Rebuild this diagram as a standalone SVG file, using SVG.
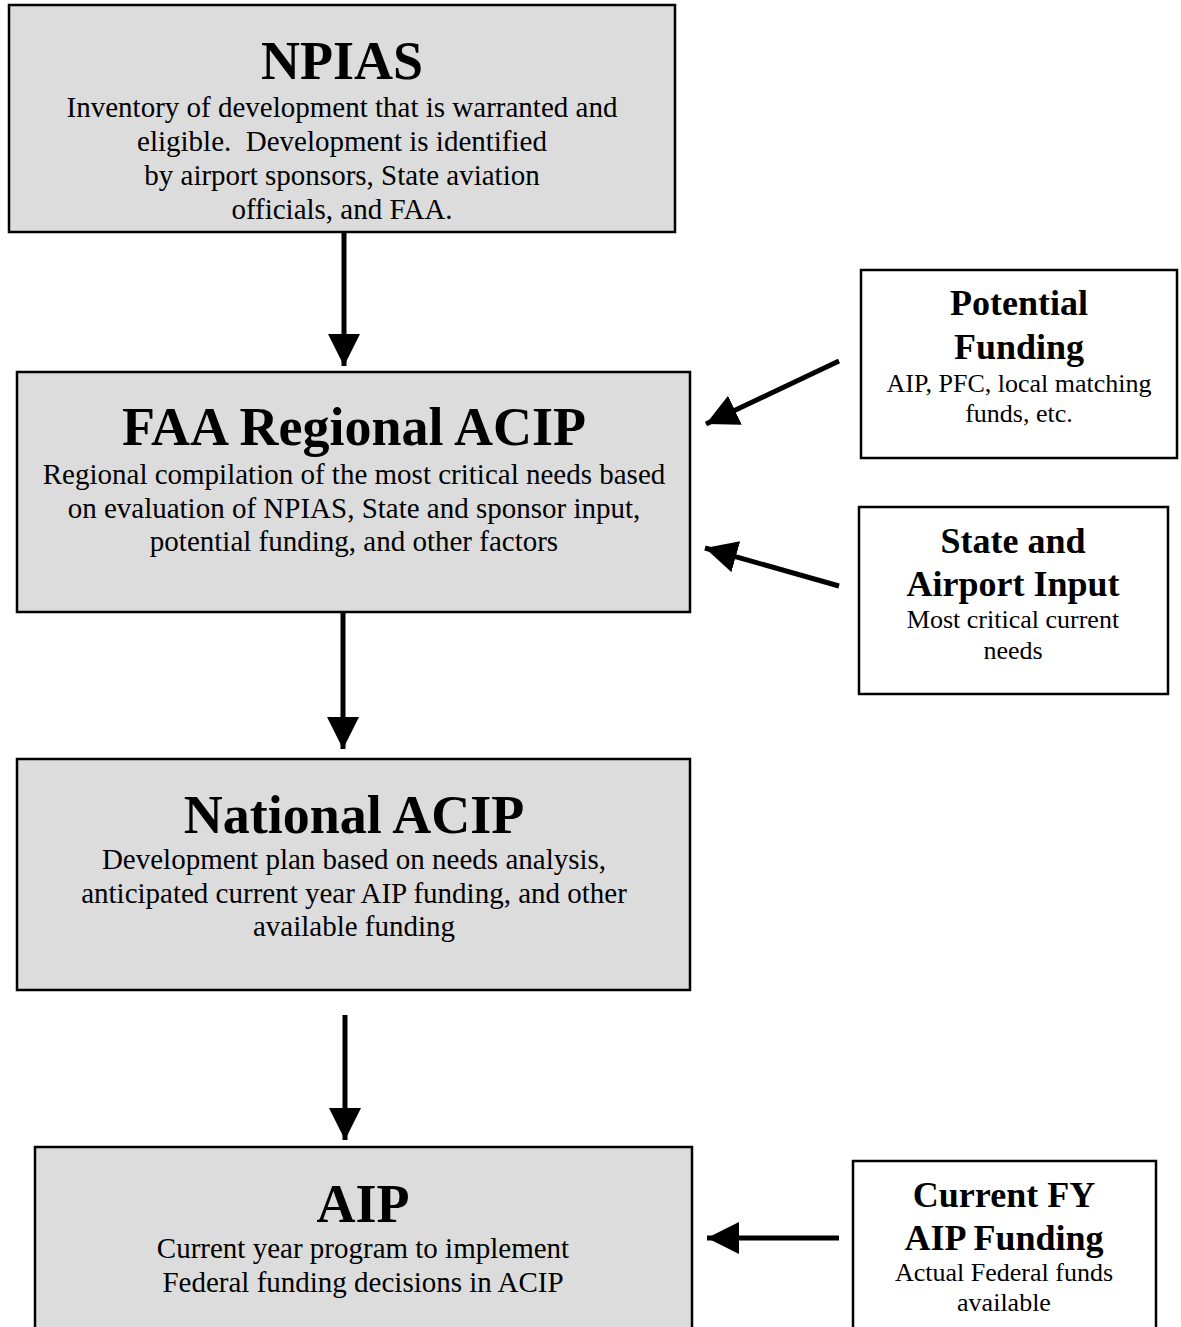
<svg xmlns="http://www.w3.org/2000/svg" width="1181" height="1327" viewBox="0 0 1181 1327">
<style>
.main{fill:#dcdcdc;stroke:#000;stroke-width:2.5}
.side{fill:#fff;stroke:#000;stroke-width:2.5}
text{font-family:"Liberation Serif","Times New Roman",serif;fill:#000;text-anchor:middle}
.t1{font-size:54px;font-weight:bold}
.b1{font-size:29px}
.t2{font-size:36px;font-weight:bold}
.b2{font-size:26px}
.pre{white-space:pre}
.conn line{stroke:#000;stroke-width:5}
</style>
<defs>
<marker id="ah" markerUnits="userSpaceOnUse" markerWidth="34" markerHeight="34" refX="32" refY="16" orient="auto">
<path d="M0,0 L32,16 L0,32 Z" fill="#000"/>
</marker>
</defs>
<rect width="1181" height="1327" fill="#fff"/>
<g id="npias">
<rect class="main" x="9" y="5" width="666" height="227"/>
<text class="t1" x="342" y="79">NPIAS</text>
<text class="b1" x="342" y="117">Inventory of development that is warranted and</text>
<text class="b1 pre" x="342" y="151" xml:space="preserve">eligible.  Development is identified</text>
<text class="b1" x="342" y="185">by airport sponsors, State aviation</text>
<text class="b1" x="342" y="219">officials, and FAA.</text>
</g>
<g id="regional">
<rect class="main" x="17" y="372" width="673" height="240"/>
<text class="t1" x="354" y="445">FAA Regional ACIP</text>
<text class="b1" x="354" y="484">Regional compilation of the most critical needs based</text>
<text class="b1" x="354" y="518">on evaluation of NPIAS, State and sponsor input,</text>
<text class="b1" x="354" y="551">potential funding, and other factors</text>
</g>
<g id="national">
<rect class="main" x="17" y="759" width="673" height="231"/>
<text class="t1" x="354" y="833">National ACIP</text>
<text class="b1" x="354" y="869">Development plan based on needs analysis,</text>
<text class="b1" x="354" y="903">anticipated current year AIP funding, and other</text>
<text class="b1" x="354" y="936">available funding</text>
</g>
<g id="aip">
<rect class="main" x="35" y="1147" width="657" height="190"/>
<text class="t1" x="363" y="1222">AIP</text>
<text class="b1" x="363" y="1258">Current year program to implement</text>
<text class="b1" x="363" y="1292">Federal funding decisions in ACIP</text>
</g>
<g id="potential">
<rect class="side" x="861" y="270" width="316" height="188"/>
<text class="t2" x="1019" y="315">Potential</text>
<text class="t2" x="1019" y="359">Funding</text>
<text class="b2" x="1019" y="392">AIP, PFC, local matching</text>
<text class="b2" x="1019" y="422">funds, etc.</text>
</g>
<g id="stateinput">
<rect class="side" x="859" y="507" width="309" height="187"/>
<text class="t2" x="1013" y="553">State and</text>
<text class="t2" x="1013" y="596">Airport Input</text>
<text class="b2" x="1013" y="628">Most critical current</text>
<text class="b2" x="1013" y="659">needs</text>
</g>
<g id="currentfy">
<rect class="side" x="853" y="1161" width="303" height="180"/>
<text class="t2" x="1004" y="1207">Current FY</text>
<text class="t2" x="1004" y="1250">AIP Funding</text>
<text class="b2" x="1004" y="1281">Actual Federal funds</text>
<text class="b2" x="1004" y="1311">available</text>
</g>
<g id="connectors" class="conn">
<line x1="344" y1="232" x2="344" y2="366" marker-end="url(#ah)"/>
<line x1="343" y1="612" x2="343" y2="749" marker-end="url(#ah)"/>
<line x1="345" y1="1015" x2="345" y2="1140" marker-end="url(#ah)"/>
<line x1="839" y1="361" x2="706" y2="424" marker-end="url(#ah)"/>
<line x1="839" y1="586" x2="705" y2="548" marker-end="url(#ah)"/>
<line x1="839" y1="1238" x2="707" y2="1238" marker-end="url(#ah)"/>
</g>
</svg>
